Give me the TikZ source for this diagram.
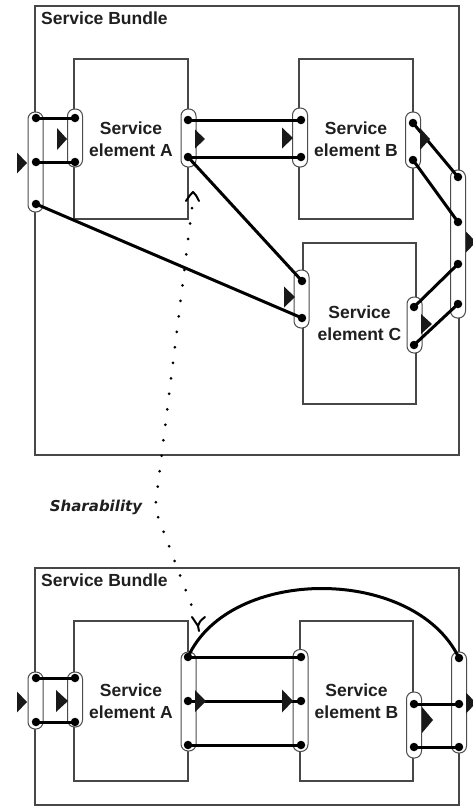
\documentclass[tikz,border=0pt]{standalone}
\usepackage{fontspec}
\setmainfont{Liberation Sans}
\newfontfamily\sharfont{DejaVu Sans}[ItalicFont={DejaVu Sans Oblique},BoldItalicFont={DejaVu Sans Bold Oblique}]
\usetikzlibrary{arrows.meta,calc}
\newcommand\flowtri[4]{\fill[black!90] (#1,#2-#4/2) -- (#1,#2+#4/2) -- (#1+#3,#2) -- cycle;}
\begin{document}
\begin{tikzpicture}[x=1pt,y=-1pt,
  frame/.style={draw=black!72, line width=1.3pt},
  bundle/.style={frame, inner sep=0pt},
  elem/.style={frame, fill=white, minimum width=114pt, minimum height=160pt, inner sep=0pt,
    align=center, font=\bfseries\fontsize{17.5}{22}\selectfont, text=black!88},
  title/.style={anchor=base west, inner sep=0pt, font=\bfseries\fontsize{17.5}{20}\selectfont, text=black!88},
  port/.style={draw=black!70, line width=1pt, fill=white, rounded corners=7pt,
    minimum width=15pt, inner sep=0pt},
  dot/.style={circle, fill=black, inner sep=0pt, minimum size=8.5pt},
  conn/.style={draw=black, line width=3pt},
  dotline/.style={draw=black, line width=3pt, line cap=round, dash pattern=on 0pt off 15.6pt},
  tipline/.style={draw=black, line width=2pt, line cap=round, line join=round}
]
\useasboundingbox (0,0) rectangle (473,807);

% ---------------- top bundle ----------------
\node[bundle, minimum width=424pt, minimum height=449pt] (bund1) at (247,230.5) {};
\node[title] (t1) at (41,24) {Service Bundle};
\node[elem] (A1) at (131,139) {Service\\element A};
\node[elem] (B1) at (356,139) {Service\\element B};
\node[elem, minimum width=113pt, minimum height=161pt] (C1) at (359.5,323.5) {Service\\element C};

\node[port, minimum height=100pt] (pL1) at (35.5,162) {};
\node[port, minimum height=58pt] (pAl1) at (75,138) {};
\node[port, minimum height=58pt] (pAr1) at (188.5,138) {};
\node[port, minimum height=59pt] (pBl1) at (300,137.5) {};
\node[port, minimum height=56pt] (pBr1) at (413,140) {};
\node[port, minimum height=148pt] (pR1) at (458,244) {};
\node[port, minimum height=58pt] (pCl1) at (301.5,299) {};
\node[port, minimum height=56pt] (pCr1) at (414.5,325) {};

\node[dot] (L1) at (36,118) {};
\node[dot] (L2) at (36,162) {};
\node[dot] (L3) at (36,204) {};
\node[dot] (Al1) at (75,118) {};
\node[dot] (Al2) at (75,162) {};
\node[dot] (Ar1) at (188,120) {};
\node[dot] (Ar2) at (188,157) {};
\node[dot] (Bl1) at (301,120) {};
\node[dot] (Bl2) at (301,157) {};
\node[dot] (Br1) at (413,123) {};
\node[dot] (Br2) at (413,160) {};
\node[dot] (R1) at (458,177) {};
\node[dot] (R2) at (458,222) {};
\node[dot] (R3) at (458,264) {};
\node[dot] (R4) at (458,304) {};
\node[dot] (Cl1) at (302,281) {};
\node[dot] (Cl2) at (302,318) {};
\node[dot] (Cr1) at (414,307) {};
\node[dot] (Cr2) at (414,345) {};

\draw[conn] (L1.center) -- (Al1.center);
\draw[conn] (L2.center) -- (Al2.center);
\draw[conn] (L3.center) -- (Cl2.center);
\draw[conn] (Ar1.center) -- (Bl1.center);
\draw[conn] (Ar2.center) -- (Bl2.center);
\draw[conn] (Ar2.center) -- (Cl1.center);
\draw[conn] (Br1.center) -- (R1.center);
\draw[conn] (Br2.center) -- (R2.center);
\draw[conn] (Cr1.center) -- (R3.center);
\draw[conn] (Cr2.center) -- (R4.center);

\flowtri{17}{163}{10}{21}
\flowtri{57}{139}{10}{22}
\flowtri{195}{139}{10}{19}
\flowtri{282}{138}{11}{21}
\flowtri{420}{139}{10}{22}
\flowtri{466}{242}{10}{21}
\flowtri{284}{297}{11}{21}
\flowtri{421}{324}{11}{20}

% ---------------- bottom bundle ----------------
\node[bundle, minimum width=424pt, minimum height=237pt] (bund2) at (247,686.5) {};
\node[title] (t2) at (41,586) {Service Bundle};
\node[elem] (A2) at (131,701) {Service\\element A};
\node[elem, minimum width=113pt] (B2) at (356.5,701) {Service\\element B};

\node[port, minimum height=57pt] (qL) at (35.5,700.5) {};
\node[port, minimum height=55pt] (qAl) at (75,699.5) {};
\node[port, minimum height=99pt] (qAr) at (188.5,701.5) {};
\node[port, minimum height=102pt] (qBl) at (300.5,700.5) {};
\node[port, minimum height=66pt] (qBr) at (414,725) {};
\node[port, minimum height=101pt] (qR) at (459,702.5) {};

\node[dot] (bL1) at (36,678) {};
\node[dot] (bL2) at (36,722) {};
\node[dot] (bAl1) at (75,678) {};
\node[dot] (bAl2) at (75,722) {};
\node[dot] (bAr1) at (188,657) {};
\node[dot] (bAr2) at (188,701) {};
\node[dot] (bAr3) at (188,745) {};
\node[dot] (bBl1) at (301,657) {};
\node[dot] (bBl2) at (301,701) {};
\node[dot] (bBl3) at (301,745) {};
\node[dot] (bBr1) at (414,704) {};
\node[dot] (bBr2) at (414,747) {};
\node[dot] (bR1) at (459,658) {};
\node[dot] (bR2) at (459,704) {};
\node[dot] (bR3) at (459,747) {};

\draw[conn] (bL1.center) -- (bAl1.center);
\draw[conn] (bL2.center) -- (bAl2.center);
\draw[conn] (bAr1.center) -- (bBl1.center);
\draw[conn] (bAr2.center) -- (bBl2.center);
\draw[conn] (bAr3.center) -- (bBl3.center);
\draw[conn] (bBr1.center) -- (bR2.center);
\draw[conn] (bBr2.center) -- (bR3.center);
\draw[conn] (bAr1.center) .. controls +(42,-92) and +(-44,-92) .. (bR1.center);

\flowtri{17}{702}{10}{21}
\flowtri{56}{701}{12}{22}
\flowtri{195}{701}{11}{22}
\flowtri{282}{701}{11}{23}
\flowtri{422}{720}{11}{26}
\flowtri{466}{703}{10}{21}

% ---------------- sharability ----------------
\coordinate (shTop) at (193,192);
\coordinate (shStart) at (192,208);
\coordinate (shBend) at (155,509);
\coordinate (shEnd) at (194,612);
\coordinate (shBot) at (198,626);
\draw[dotline] (shStart) -- (shBend) -- (shEnd);
\draw[tipline] ($(shTop)+(-7,9)$) .. controls ($(shTop)+(-3,3)$) .. (shTop)
  .. controls ($(shTop)+(3,3)$) .. ($(shTop)+(6,9)$);
\draw[tipline] ($(shBot)+(-6,-9)$) .. controls ($(shBot)+(-2,-3)$) .. (shBot)
  .. controls ($(shBot)+(2,-5)$) .. ($(shBot)+(7,-9)$);
\draw[tipline] (shBot) -- ($(shBot)+(1,5)$);
\node[font=\sharfont\bfseries\itshape\fontsize{15}{18}\selectfont, text=black!88] (shar) at (96,507) {Sharability};
\end{tikzpicture}
\end{document}
